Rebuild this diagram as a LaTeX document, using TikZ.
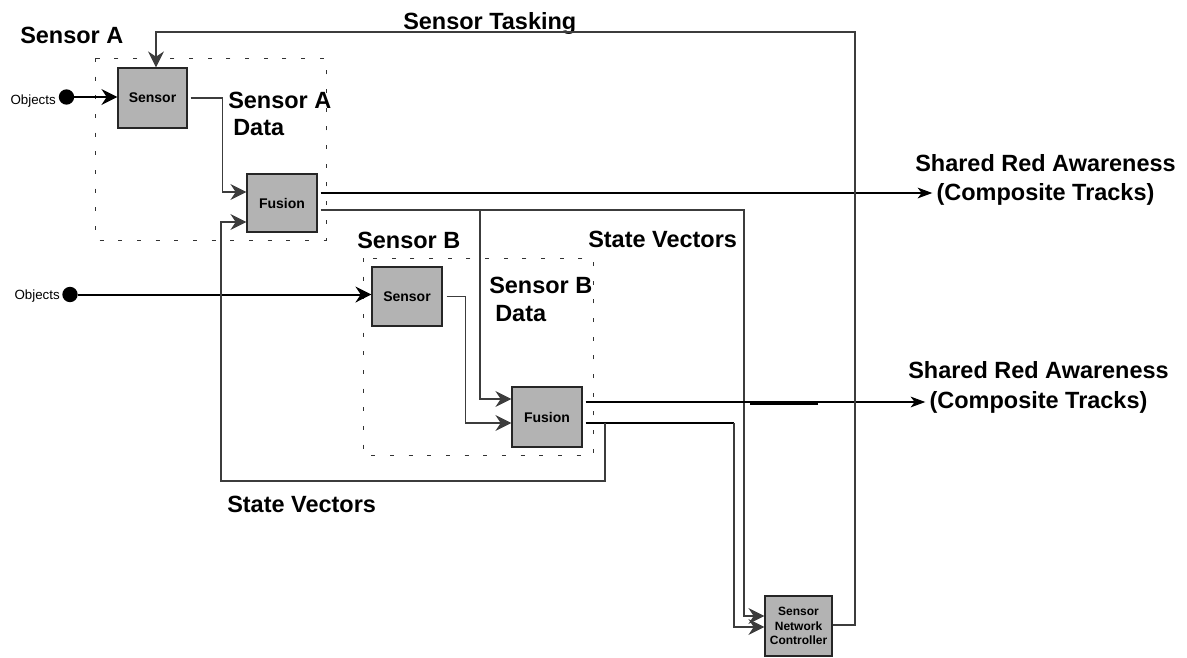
\documentclass[tikz,border=0pt]{standalone}
\usepackage{fontspec}
\setmainfont{Liberation Sans}
\usetikzlibrary{arrows.meta,calc}
\definecolor{boxgray}{RGB}{179,179,179}
\definecolor{linegray}{RGB}{60,60,60}
\begin{document}
\begin{tikzpicture}[x=0.75pt,y=-0.75pt,
  blk/.style={draw=black!85,fill=boxgray,line width=0.9pt,inner sep=0pt,font=\bfseries\fontsize{10.5}{12}\selectfont},
  big/.style={font=\bfseries\fontsize{17.6}{21}\selectfont,inner sep=0pt},
  small/.style={font=\fontsize{10}{11}\selectfont,inner sep=0pt},
  thk/.style={line width=1.5pt,black},
  thn/.style={line width=0.8pt,linegray},
  arr/.style={-{Stealth[length=12pt,width=12pt,inset=4pt]}},
  arrR/.style={-{Stealth[length=11pt,width=8pt,inset=3pt]}},
  grp/.style={draw=black!80,line width=0.75pt,dash pattern=on 3pt off 11pt},
  dot/.style={circle,fill=black,inner sep=0pt,minimum size=11.5pt}
]
\useasboundingbox (0,0) rectangle (1187,657);

% sensor groups
\draw[grp] (95,58) rectangle (326,240);
\draw[grp] (363,258) rectangle (593,455);

% blocks
\node[blk,minimum width=51.75pt,minimum height=45pt] (sensorA) at (152.5,98) {Sensor};
\node[blk,minimum width=52.5pt,minimum height=43.5pt] (fusionA) at (282,203) {Fusion};
\node[blk,minimum width=52.5pt,minimum height=44.25pt] (sensorB) at (407,296.5) {Sensor};
\node[blk,minimum width=52.5pt,minimum height=45pt] (fusionB) at (547,417) {Fusion};
\node[blk,minimum width=50.25pt,minimum height=45pt,align=center,font=\bfseries\fontsize{9}{10.9}\selectfont] (ctrl) at (798.5,626) {Sensor\\Network\\Controller};

% object sources
\node[dot] (dotA) at (66.5,97) {};
\node[small,anchor=base east] (objA) at (56,104) {Objects};
\node[dot] (dotB) at (70,294.5) {};
\node[small,anchor=base east] (objB) at (60,299) {Objects};

% labels
\node[big,anchor=base west] (lblA) at (20,43) {Sensor A};
\node[big,anchor=base west] (lblTask) at (403,29) {Sensor Tasking};
\node[big,anchor=base west] (lblAd1) at (228,108) {Sensor A};
\node[big,anchor=base west] (lblAd2) at (233,135) {Data};
\node[big,anchor=base west] (lblB) at (357,248) {Sensor B};
\node[big,anchor=base west] (lblSV1) at (588,247) {State Vectors};
\node[big,anchor=base west] (lblBd1) at (489,293) {Sensor B};
\node[big,anchor=base west] (lblBd2) at (495,321) {Data};
\node[big,anchor=base west] (lblSV2) at (227,512) {State Vectors};
\node[big,anchor=base] (awA1) at (1045.5,171) {Shared Red Awareness};
\node[big,anchor=base] (awA2) at (1045.5,200) {(Composite Tracks)};
\node[big,anchor=base] (awB1) at (1038.5,378) {Shared Red Awareness};
\node[big,anchor=base] (awB2) at (1038.5,408) {(Composite Tracks)};

% connectors
\draw[thk,arr] (dotA) -- (sensorA.west |- dotA);
\draw[thk,arr] (dotB) -- (sensorB.west |- dotB);

\draw[thn,arr] ($(sensorA.east)+(3,0)$) -- ++(32,0) |- ($(fusionA.west)+(0,-11)$);
\draw[thk,arrR,shorten >=3pt] ($(fusionA.east)+(3,-10)$) coordinate (fa1) -- (fa1 -| awA2.west);
\draw[thn,arr] ($(fusionA.east)+(3,7)$) -- (744,210) -- (744,616) -- ($(ctrl.west)+(0,-10)$);
\draw[thn,arr] (480,210) |- ($(fusionB.west)+(0,-18)$);

\draw[thn,arr] ($(sensorB.east)+(4,0)$) -- ++(19,0) |- ($(fusionB.west)+(0,6)$);
\draw[thk,arrR,shorten >=3pt] ($(fusionB.east)+(3,-15)$) coordinate (fb1) -- (fb1 -| awB2.west);
\draw[line width=2.2pt] (750,403.5) -- (818,403.5);

\draw[thk] ($(fusionB.east)+(3,6)$) -- (734,423);
\draw[thn,arr] (734,423) |- ($(ctrl.west)+(0,1)$);
\draw[thn,arr] (605,423) |- (221,481) |- ($(fusionA.west)+(0,19)$);

\draw[thn,arr] ($(ctrl.east)+(0,-1)$) -- (855,625) |- (156,32) -- ($(sensorA.north)+(3.5,0)$);
\end{tikzpicture}
\end{document}
